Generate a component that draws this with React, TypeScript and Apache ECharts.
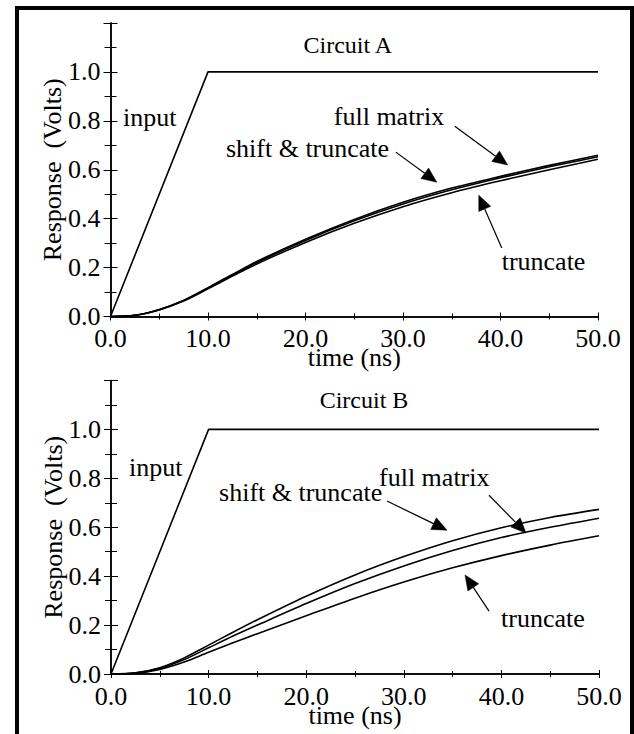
import React, { useEffect, useRef } from "react";
import * as echarts from "echarts";

// time samples (ns)
const timeA = [0, 2.5, 5, 7.5, 10, 12.5, 15, 20, 25, 30, 35, 40, 45, 50];
const timeB = [0, 2.5, 5, 7.5, 10, 12.5, 15, 20, 25, 30, 35, 40, 45, 50];

// input ramp
const inputT = [0, 10, 50];
const inputV = [0, 1, 1];

// Circuit A responses (Volts)
const aShift = [0, 0.005, 0.029, 0.066, 0.118, 0.172, 0.225, 0.316, 0.397, 0.467, 0.525, 0.573, 0.618, 0.659];
const aFull = [0, 0.005, 0.028, 0.065, 0.116, 0.169, 0.221, 0.311, 0.391, 0.46, 0.518, 0.567, 0.612, 0.653];
const aTrunc = [0, 0.005, 0.027, 0.063, 0.113, 0.165, 0.215, 0.303, 0.381, 0.449, 0.506, 0.555, 0.6, 0.643];

// Circuit B responses (Volts)
const bShift = [0, 0.005, 0.026, 0.066, 0.118, 0.171, 0.222, 0.318, 0.405, 0.48, 0.545, 0.598, 0.64, 0.673];
const bFull = [0, 0.004, 0.023, 0.059, 0.107, 0.155, 0.2, 0.288, 0.37, 0.442, 0.505, 0.558, 0.6, 0.637];
const bTrunc = [0, 0.003, 0.019, 0.049, 0.089, 0.128, 0.165, 0.238, 0.31, 0.376, 0.434, 0.484, 0.527, 0.565];

const xTicksMax = 50;
const yTicksMax = 1.2;

// annotations in data coordinates [time, volts]
const labelsA = [
  { text: "Circuit A", at: [24.34, 1.111], align: "center", size: 24 },
  { text: "input", at: [1.28, 0.815], align: "left", size: 26 },
  { text: "full matrix", at: [22.9, 0.819], align: "left", size: 26 },
  { text: "shift & truncate", at: [11.84, 0.688], align: "left", size: 26 },
  { text: "truncate", at: [40.12, 0.223], align: "left", size: 26 },
];
const arrowsA = [
  [[35.31, 0.778], [40.74, 0.619]],
  [[29.26, 0.672], [33.47, 0.549]],
  [[40.13, 0.28], [37.77, 0.496]],
];
const labelsB = [
  { text: "Circuit B", at: [25.92, 1.12], align: "center", size: 24 },
  { text: "input", at: [1.84, 0.846], align: "left", size: 26 },
  { text: "full matrix", at: [27.46, 0.805], align: "left", size: 26 },
  { text: "shift & truncate", at: [11.07, 0.744], align: "left", size: 26 },
  { text: "truncate", at: [39.96, 0.225], align: "left", size: 26 },
];
const arrowsB = [
  [[28.28, 0.707], [34.43, 0.588]],
  [[38.73, 0.731], [42.52, 0.576]],
  [[38.73, 0.257], [36.27, 0.405]],
];

const FONT = "Liberation Serif";

function pairs(t: number[], v: number[]) {
  return t.map((x, i) => [x, v[i]]);
}

function xAxes(grid: number) {
  const common = {
    type: "value",
    gridIndex: grid,
    min: 0,
    max: xTicksMax,
    interval: 10,
    splitLine: { show: false },
    axisLine: { show: true, lineStyle: { color: "#000", width: 1.5 } },
    minorTick: { show: true, splitNumber: 2, length: 3, lineStyle: { color: "#000", width: 1 } },
    axisTick: { show: true, inside: true, length: 4, lineStyle: { color: "#000", width: 1 } },
  };
  return [
    {
      ...common,
      position: "bottom",
      axisLabel: {
        show: true,
        margin: 9,
        color: "#000",
        fontFamily: FONT,
        fontSize: 26,
        formatter: (v: number) => v.toFixed(1),
      },
      name: "time (ns)",
      nameLocation: "middle",
      nameGap: 28,
      nameMoveOverlap: false,
      nameTextStyle: { color: "#000", fontFamily: FONT, fontSize: 26 },
    },
    { ...common, position: "top", axisLabel: { show: false } },
  ];
}

function yAxes(grid: number) {
  const common = {
    type: "value",
    gridIndex: grid,
    min: 0,
    max: yTicksMax,
    interval: 0.2,
    splitLine: { show: false },
    axisLine: { show: true, lineStyle: { color: "#000", width: 1.5 } },
    minorTick: { show: true, splitNumber: 2, length: 6, lineStyle: { color: "#000", width: 1 } },
    axisTick: { show: true, inside: true, length: 7, lineStyle: { color: "#000", width: 1 } },
  };
  return [
    {
      ...common,
      position: "left",
      axisLabel: {
        show: true,
        margin: 10,
        color: "#000",
        fontFamily: FONT,
        fontSize: 26,
        formatter: (v: number) => (v > 1.05 ? "" : v.toFixed(1)),
      },
      name: "Response  (Volts)",
      nameLocation: "middle",
      nameGap: 45,
      nameRotate: 90,
      nameMoveOverlap: false,
      nameTextStyle: { color: "#000", fontFamily: FONT, fontSize: 26 },
    },
    { ...common, position: "right", axisLabel: { show: false } },
  ];
}

function lineSeries(name: string, data: number[][], xi: number, yi: number, smooth: boolean) {
  return {
    type: "line",
    name,
    xAxisIndex: xi,
    yAxisIndex: yi,
    data,
    smooth: smooth ? 0.3 : false,
    showSymbol: false,
    symbol: "none",
    lineStyle: { color: "#000", width: 1.6 },
    silent: true,
  };
}

export default function App() {
  const ref = useRef<HTMLDivElement>(null);
  useEffect(() => {
    document.body.style.margin = "0";
    const chart = echarts.init(ref.current!, null, { renderer: "svg" });
    const option: any = {
      animation: false,
      backgroundColor: "#fff",
      textStyle: { fontFamily: FONT },
      grid: [
        { left: 110.5, top: 23, width: 487.5, height: 293.5 },
        { left: 111, top: 380.5, width: 488, height: 293.5 },
      ],
      xAxis: [...xAxes(0), ...xAxes(1)],
      yAxis: [...yAxes(0), ...yAxes(1)],
      series: [
        lineSeries("input A", pairs(inputT, inputV), 0, 0, false),
        lineSeries("shift & truncate A", pairs(timeA, aShift), 0, 0, true),
        lineSeries("full matrix A", pairs(timeA, aFull), 0, 0, true),
        lineSeries("truncate A", pairs(timeA, aTrunc), 0, 0, true),
        lineSeries("input B", pairs(inputT, inputV), 2, 2, false),
        lineSeries("shift & truncate B", pairs(timeB, bShift), 2, 2, true),
        lineSeries("full matrix B", pairs(timeB, bFull), 2, 2, true),
        lineSeries("truncate B", pairs(timeB, bTrunc), 2, 2, true),
      ],
    };
    chart.setOption(option);

    const graphics: any[] = [
      {
        type: "rect",
        silent: true,
        shape: { x: 17, y: 8, width: 615, height: 800 },
        style: { fill: "none", stroke: "#000", lineWidth: 4 },
      },
    ];
    const addAnn = (seriesIndex: number, labels: any[], arrows: number[][][]) => {
      labels.forEach((l) => {
        const p = chart.convertToPixel({ seriesIndex }, l.at) as number[];
        graphics.push({
          type: "text",
          silent: true,
          x: p[0],
          y: p[1],
          style: {
            text: l.text,
            fill: "#000",
            fontFamily: FONT,
            fontSize: l.size,
            align: l.align,
            verticalAlign: "middle",
          },
        });
      });
      arrows.forEach((a) => {
        const p1 = chart.convertToPixel({ seriesIndex }, a[0]) as number[];
        const p2 = chart.convertToPixel({ seriesIndex }, a[1]) as number[];
        const dx = p2[0] - p1[0];
        const dy = p2[1] - p1[1];
        const len = Math.sqrt(dx * dx + dy * dy);
        const ux = dx / len;
        const uy = dy / len;
        const L = 15;
        const W = 6.5;
        const bx = p2[0] - ux * L;
        const by = p2[1] - uy * L;
        graphics.push({
          type: "line",
          silent: true,
          shape: { x1: p1[0], y1: p1[1], x2: bx, y2: by },
          style: { stroke: "#000", lineWidth: 1.2 },
        });
        graphics.push({
          type: "polygon",
          silent: true,
          shape: {
            points: [
              [p2[0], p2[1]],
              [bx - uy * W, by + ux * W],
              [bx + uy * W, by - ux * W],
            ],
          },
          style: { fill: "#000", stroke: "#000", lineWidth: 0.5 },
        });
      });
    };
    addAnn(0, labelsA, arrowsA);
    addAnn(4, labelsB, arrowsB);
    chart.setOption({ graphic: graphics });

    return () => chart.dispose();
  }, []);
  return (
    <div
      ref={ref}
      style={{ position: "absolute", left: 0, top: 0, width: 634, height: 734 }}
    />
  );
}
